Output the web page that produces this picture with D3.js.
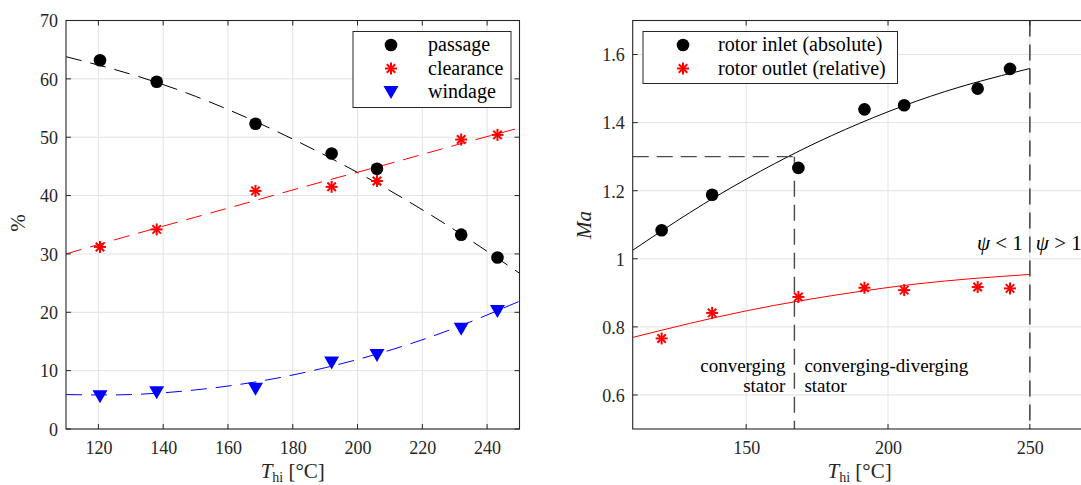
<!DOCTYPE html>
<html><head><meta charset="utf-8">
<script src="https://cdn.jsdelivr.net/npm/d3@7"></script>
<style>body{margin:0;background:#fff;}</style></head><body>
<svg id="chart" width="1081" height="485"></svg>
<script>
// ---------- data (left panel: loss breakdown, %) ----------
const tempC = [120.5, 138, 168.5, 192, 206, 232, 243.2];
const passage = [63.2, 59.5, 52.3, 47.2, 44.6, 33.3, 29.4];
const clearance = [31.2, 34.2, 40.8, 41.5, 42.5, 49.6, 50.4];
const windage = [5.6, 6.3, 6.9, 11.4, 12.7, 17.2, 20.2];
const fitT = [110, 130, 150, 170, 190, 210, 230, 250];
const passageFit = [63.8, 60.8, 57.0, 52.3, 46.9, 40.85, 34.1, 26.7];
const clearanceFit = [30.0, 33.2, 36.3, 39.4, 42.5, 45.5, 48.6, 51.6];
const windageFit = [5.9, 5.9, 6.7, 8.2, 10.5, 13.5, 17.3, 21.9];
const leftXTicks = [120, 140, 160, 180, 200, 220, 240];
const leftYTicks = [0, 10, 20, 30, 40, 50, 60, 70];
const lossNames = ["passage", "clearance", "windage"];

// ---------- data (right panel: Mach numbers) ----------
const tempC2 = [120.2, 138, 168.4, 191.7, 205.7, 231.6, 243];
const inletMa = [1.084, 1.188, 1.267, 1.439, 1.451, 1.500, 1.558];
const outletMa = [0.766, 0.841, 0.888, 0.915, 0.908, 0.917, 0.913];
const fitT2 = [110, 130, 150, 170, 190, 210, 230, 250];
const inletFit = [1.025, 1.135, 1.234, 1.322, 1.398, 1.463, 1.516, 1.559];
const outletFit = [0.769, 0.810, 0.847, 0.878, 0.904, 0.926, 0.942, 0.954];
const rightXTicks = [150, 200, 250];
const rightYTicks = [0.6, 0.8, 1.0, 1.2, 1.4, 1.6];
const machNames = ["rotor inlet (absolute)", "rotor outlet (relative)"];
const statorSwitchT = 167, statorSwitchMa = 1.3, psiLimitT = 250;

// ---------- setup ----------
const FONT = '"Liberation Serif"';
const svg = d3.select("#chart");
const AX = "#262626", GRID = "#e2e2e2";
const xL = d3.scaleLinear().domain([110, 250]).range([66, 519.5]);
const yL = d3.scaleLinear().domain([0, 70]).range([429, 20.5]);
const xR = d3.scaleLinear().domain([110, 270]).range([632.7, 1086.6]);
const yR = d3.scaleLinear().domain([0.5, 1.7]).range([429, 20.5]);

function txt(sel, size) {
  return sel.attr("font-family", null).style("font-family", FONT).style("font-size", size + "px");
}
function frame(x, y, xt, yt, id) {
  const [x0, x1] = x.range(), [y0, y1] = y.range();
  const g = svg.append("g");
  g.append("clipPath").attr("id", id).append("rect")
    .attr("x", x0).attr("y", y1).attr("width", x1 - x0).attr("height", y0 - y1);
  g.selectAll(".gx").data(xt).join("line")
    .attr("x1", d => x(d)).attr("x2", d => x(d)).attr("y1", y0).attr("y2", y1)
    .attr("stroke", GRID).attr("stroke-width", 1);
  g.selectAll(".gy").data(yt).join("line")
    .attr("y1", d => y(d)).attr("y2", d => y(d)).attr("x1", x0).attr("x2", x1)
    .attr("stroke", GRID).attr("stroke-width", 1);
  return g;
}
function box(x, y, xt, yt, yfmt) {
  const [x0, x1] = x.range(), [y0, y1] = y.range();
  const g = svg.append("g");
  const xb = g.append("g").attr("transform", `translate(0,${y0})`)
    .call(d3.axisBottom(x).tickValues(xt).tickSize(0).tickPadding(12));
  xb.attr("font-family", null).attr("font-size", null);
  xb.select(".domain").remove();
  txt(xb.selectAll("text"), 18).attr("fill", AX);
  const yb = g.append("g").attr("transform", `translate(${x0},0)`)
    .call(d3.axisLeft(y).tickValues(yt).tickSize(0).tickPadding(8).tickFormat(yfmt));
  yb.attr("font-family", null).attr("font-size", null);
  yb.select(".domain").remove();
  txt(yb.selectAll("text"), 18).attr("fill", AX).attr("dy", "0.35em");
  const tl = 5;
  xt.forEach(v => {
    g.append("line").attr("x1", x(v)).attr("x2", x(v)).attr("y1", y0).attr("y2", y0 - tl).attr("stroke", AX);
    g.append("line").attr("x1", x(v)).attr("x2", x(v)).attr("y1", y1).attr("y2", y1 + tl).attr("stroke", AX);
  });
  yt.forEach(v => {
    g.append("line").attr("y1", y(v)).attr("y2", y(v)).attr("x1", x0).attr("x2", x0 + tl).attr("stroke", AX);
    g.append("line").attr("y1", y(v)).attr("y2", y(v)).attr("x1", x1).attr("x2", x1 - tl).attr("stroke", AX);
  });
  g.append("rect").attr("x", x0).attr("y", y1).attr("width", x1 - x0).attr("height", y0 - y1)
    .attr("fill", "none").attr("stroke", AX).attr("stroke-width", 1.1);
}
function circle(g, cx, cy) {
  g.append("circle").attr("cx", cx).attr("cy", cy).attr("r", 6.3).attr("fill", "#000");
}
function star(g, cx, cy) {
  const s = g.append("g").attr("transform", `translate(${cx},${cy})`);
  [0, 45, 90, 135].forEach(a => {
    const r = 6, t = a * Math.PI / 180;
    s.append("line").attr("x1", -r * Math.cos(t)).attr("y1", -r * Math.sin(t))
      .attr("x2", r * Math.cos(t)).attr("y2", r * Math.sin(t))
      .attr("stroke", "#ff0000").attr("stroke-width", 2);
  });
}
function tri(g, cx, cy) {
  g.append("path").attr("d", `M${cx - 7.5},${cy - 6} L${cx + 7.5},${cy - 6} L${cx},${cy + 7} Z`)
    .attr("fill", "#0000ff");
}
function curve(g, x, y, xs, ys, color, dash, clip) {
  g.append("path").datum(xs.map((v, i) => [v, ys[i]]))
    .attr("d", d3.line().x(d => x(d[0])).y(d => y(d[1])).curve(d3.curveNatural))
    .attr("fill", "none").attr("stroke", color).attr("stroke-width", 1)
    .attr("stroke-dasharray", dash).attr("clip-path", `url(#${clip})`);
}
function xlabel(cx) {
  const t = txt(svg.append("text"), 21).attr("x", cx).attr("y", 478).attr("text-anchor", "middle")
    .attr("fill", AX);
  t.append("tspan").text("T").style("font-style", "italic");
  t.append("tspan").text("hi").attr("dy", 4).style("font-size", "14px");
  t.append("tspan").text(" [°C]").attr("dy", -4);
}

// ---------- left panel ----------
const gl = frame(xL, yL, leftXTicks, leftYTicks, "clipL");
curve(gl, xL, yL, fitT, passageFit, "#000", "16,9", "clipL");
curve(gl, xL, yL, fitT, clearanceFit, "#ff0000", "16,9", "clipL");
curve(gl, xL, yL, fitT, windageFit, "#0000ff", "16,9", "clipL");
tempC.forEach((t, i) => circle(gl, xL(t), yL(passage[i])));
tempC.forEach((t, i) => star(gl, xL(t), yL(clearance[i])));
tempC.forEach((t, i) => tri(gl, xL(t), yL(windage[i])));
box(xL, yL, leftXTicks, leftYTicks, d3.format("d"));
xlabel((xL.range()[0] + xL.range()[1]) / 2);
txt(svg.append("text"), 21).attr("transform", "translate(25,223) rotate(-90)").attr("text-anchor", "middle")
  .attr("fill", AX).text("%");
// legend left
const lg = svg.append("g");
lg.append("rect").attr("x", 353).attr("y", 31.5).attr("width", 158).attr("height", 76)
  .attr("fill", "#fff").attr("stroke", AX).attr("stroke-width", 1);
const rowsL = [45, 68.5, 92];
circle(lg, 391, rowsL[0]); star(lg, 391, rowsL[1]); tri(lg, 391, rowsL[2]);
lossNames.forEach((n, i) => txt(lg.append("text"), 20).attr("x", 428).attr("y", rowsL[i] + 6)
  .attr("fill", "#000").text(n));

// ---------- right panel ----------
const gr = frame(xR, yR, rightXTicks, rightYTicks, "clipR");
curve(gr, xR, yR, fitT2, inletFit, "#000", null, "clipR");
curve(gr, xR, yR, fitT2, outletFit, "#ff0000", null, "clipR");
const REF = "#4a4a4a";
gr.append("line").attr("x1", xR(110)).attr("x2", xR(statorSwitchT))
  .attr("y1", yR(statorSwitchMa)).attr("y2", yR(statorSwitchMa))
  .attr("stroke", REF).attr("stroke-width", 1.4).attr("stroke-dasharray", "16,8");
gr.append("line").attr("x1", xR(statorSwitchT)).attr("x2", xR(statorSwitchT))
  .attr("y1", yR(statorSwitchMa)).attr("y2", yR(0.5))
  .attr("stroke", REF).attr("stroke-width", 1.4).attr("stroke-dasharray", "16,8");
gr.append("line").attr("x1", xR(psiLimitT)).attr("x2", xR(psiLimitT))
  .attr("y1", yR(1.7)).attr("y2", yR(0.5))
  .attr("stroke", REF).attr("stroke-width", 1.6).attr("stroke-dasharray", "16,8");
tempC2.forEach((t, i) => circle(gr, xR(t), yR(inletMa[i])));
tempC2.forEach((t, i) => star(gr, xR(t), yR(outletMa[i])));
box(xR, yR, rightXTicks, rightYTicks, d => d === 1 ? "1" : d3.format(".1f")(d));
xlabel(xR(190));
txt(svg.append("text"), 21).attr("transform", "translate(591,225) rotate(-90)").attr("text-anchor", "middle")
  .style("font-style", "italic").attr("fill", AX).text("Ma");
// annotations
function ann(x, y, anchor, str) {
  txt(svg.append("text"), 19).attr("x", x).attr("y", y).attr("text-anchor", anchor)
    .attr("fill", "#000").text(str);
}
ann(xR(statorSwitchT) - 9, 372, "end", "converging");
ann(xR(statorSwitchT) - 9, 392, "end", "stator");
ann(xR(statorSwitchT) + 10, 372, "start", "converging-diverging");
ann(xR(statorSwitchT) + 10, 392, "start", "stator");
function psi(x, anchor, op) {
  const t = txt(svg.append("text"), 21).attr("x", x).attr("y", 250).attr("text-anchor", anchor)
    .attr("fill", "#000");
  t.append("tspan").text("ψ").style("font-style", "italic");
  t.append("tspan").text(" " + op + " 1");
}
psi(xR(psiLimitT) - 7, "end", "<");
psi(xR(psiLimitT) + 6, "start", ">");
// legend right
const rg = svg.append("g");
rg.append("rect").attr("x", 643).attr("y", 31.5).attr("width", 254.5).attr("height", 52)
  .attr("fill", "#fff").attr("stroke", AX).attr("stroke-width", 1);
circle(rg, 683, 45); star(rg, 683, 68.5);
machNames.forEach((n, i) => txt(rg.append("text"), 20).attr("x", 718).attr("y", [45, 68.5][i] + 6)
  .attr("fill", "#000").text(n));
</script>
</body></html>
